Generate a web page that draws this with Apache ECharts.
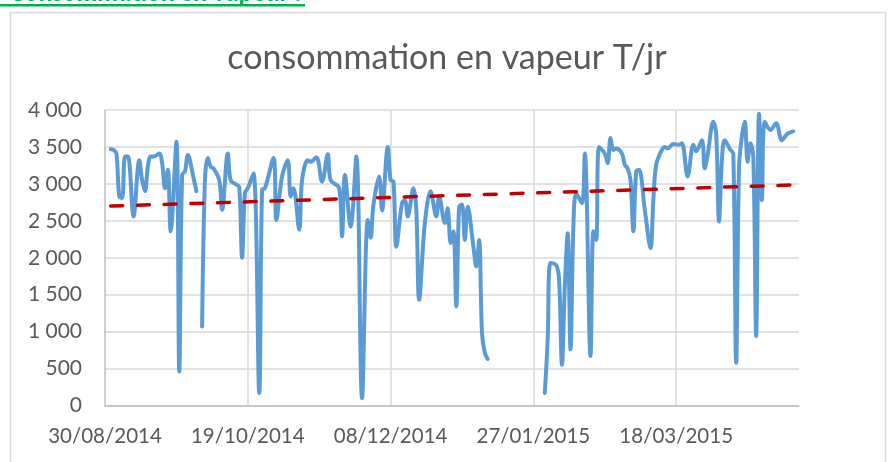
<!DOCTYPE html>
<html>
<head>
<meta charset="utf-8">
<script src="https://cdn.jsdelivr.net/npm/echarts@6/dist/echarts.min.js"></script>
<style>
html,body{margin:0;padding:0;background:#fff;}
#chart{width:889px;height:462px;}
</style>
</head>
<body>
<div id="chart"></div>
<script>
// ---- data ----
const axisStart = '2014-08-30';
const axisEnd = '2015-04-30';
const tickDates = ['30/08/2014', '19/10/2014', '08/12/2014', '27/01/2015', '18/03/2015'];
const yTicks = [0, 500, 1000, 1500, 2000, 2500, 3000, 3500, 4000];

const dates = [
 '2014-09-01','2014-09-02','2014-09-03','2014-09-04','2014-09-05','2014-09-06','2014-09-07','2014-09-09',
 '2014-09-11','2014-09-12','2014-09-13','2014-09-14','2014-09-15','2014-09-16','2014-09-18','2014-09-19',
 '2014-09-20','2014-09-21','2014-09-22','2014-09-24','2014-09-25','2014-09-26','2014-09-27','2014-09-28',
 '2014-09-30','2014-10-01','2014-10-02','2014-10-03','2014-10-04','2014-10-05','2014-10-06','2014-10-07',
 '2014-10-09','2014-10-10','2014-10-12','2014-10-13','2014-10-15','2014-10-16','2014-10-17','2014-10-18',
 '2014-10-19','2014-10-21','2014-10-23','2014-10-24','2014-10-25','2014-10-28','2014-10-29','2014-10-31',
 '2014-11-02','2014-11-03','2014-11-04','2014-11-06','2014-11-07','2014-11-09','2014-11-10','2014-11-12',
 '2014-11-14','2014-11-16','2014-11-17','2014-11-20','2014-11-21','2014-11-22','2014-11-24','2014-11-26',
 '2014-11-28','2014-11-30','2014-12-01','2014-12-02','2014-12-04','2014-12-05','2014-12-07','2014-12-08',
 '2014-12-09','2014-12-10','2014-12-12','2014-12-13','2014-12-14','2014-12-16','2014-12-17','2014-12-18',
 '2014-12-20','2014-12-22','2014-12-24','2014-12-25','2014-12-27','2014-12-28','2014-12-29','2014-12-30',
 '2014-12-31','2015-01-01','2015-01-02','2015-01-03','2015-01-04','2015-01-06','2015-01-07','2015-01-08',
 '2015-01-09','2015-01-10','2015-01-11','2015-01-12',
 '2015-01-31','2015-02-01','2015-02-02','2015-02-04','2015-02-05','2015-02-06','2015-02-07','2015-02-08',
 '2015-02-09','2015-02-10','2015-02-11','2015-02-13','2015-02-14','2015-02-16','2015-02-17','2015-02-18',
 '2015-02-19','2015-02-21','2015-02-22','2015-02-23','2015-02-24','2015-02-25','2015-02-27','2015-02-28',
 '2015-03-01','2015-03-02','2015-03-03','2015-03-04','2015-03-05','2015-03-07','2015-03-09','2015-03-10',
 '2015-03-11','2015-03-13','2015-03-14','2015-03-15','2015-03-17','2015-03-19','2015-03-20','2015-03-22',
 '2015-03-24','2015-03-25','2015-03-27','2015-03-28','2015-03-29','2015-03-31','2015-04-01','2015-04-02',
 '2015-04-03','2015-04-04','2015-04-06','2015-04-07','2015-04-08','2015-04-09','2015-04-10','2015-04-11',
 '2015-04-12','2015-04-13','2015-04-14','2015-04-15','2015-04-16','2015-04-17','2015-04-18','2015-04-20',
 '2015-04-22','2015-04-24','2015-04-26','2015-04-28'
];
const vapeur = [
 3470,3460,3410,2830,2810,3370,3370,2560,
 3320,3050,2900,3230,3370,3370,3410,3280,
 2940,3190,2360,3570,460,3120,3170,3390,
 3080,2900,null,1070,3050,3350,3230,3210,
 3050,2650,3410,3050,2990,2960,2000,2880,
 2940,3140,170,2920,2940,3350,2510,3100,
 3320,2830,2940,2380,3050,3320,3300,3360,
 3030,3400,3050,2940,2290,3120,2420,3370,
 100,2510,2270,2720,3100,2640,3500,3050,
 3030,2150,2740,2780,2560,2940,2650,1430,
 2470,2900,2560,2830,2470,2670,2200,2360,
 1340,2690,2720,2240,2690,2150,1880,2240,
 980,710,630,null,
 170,890,1930,1900,1700,550,1610,2330,
 760,2420,2870,2740,3410,670,2360,2240,
 3500,3410,3280,3620,3460,3480,3410,3260,
 3210,3050,2360,3170,3190,2650,2130,2780,
 3260,3460,3500,3480,3540,3530,3550,3100,
 3530,3440,3590,3210,3390,3840,3680,2490,
 3320,3590,3460,3410,580,3230,3640,3840,
 3300,3550,3370,940,3950,2780,3840,3730,
 3820,3590,3680,3710
];
const trendDates = ['2014-09-01', '2015-04-28'];
const trendValues = [2700, 2985];

// ---- helpers ----
const DAY = 86400000;
function toMs(s){ const p = s.split('-'); return Date.UTC(+p[0], +p[1]-1, +p[2]); }
const t0 = toMs(axisStart);
function dayOf(s){ return Math.round((toMs(s) - t0) / DAY); }
function fmtDay(d){
  const dt = new Date(t0 + d * DAY);
  const dd = String(dt.getUTCDate()).padStart(2,'0');
  const mm = String(dt.getUTCMonth()+1).padStart(2,'0');
  return dd + '/' + mm + '/' + dt.getUTCFullYear();
}
function fmtNum(v){ return String(v).replace(/\B(?=(\d{3})+(?!\d))/g, ' '); }

const lineData = dates.map((d, i) => [dayOf(d), vapeur[i]]);
const trendData = trendDates.map((d, i) => [dayOf(d), trendValues[i]]);
const xMax = dayOf(axisEnd);

const FONT = 'Lato, "Noto Sans", sans-serif';
const chart = echarts.init(document.getElementById('chart'), null, {renderer: 'canvas'});
chart.setOption({
  animation: false,
  backgroundColor: '#ffffff',
  grid: {left: 105, right: 90, top: 110, bottom: 56.5, containLabel: false},
  xAxis: {
    type: 'value', min: 0, max: xMax, interval: 50,
    axisLine: {show: true, onZero: false, lineStyle: {color: '#BFBFBF', width: 1.5}},
    axisTick: {show: false},
    splitLine: {show: true, showMinLine: false, showMaxLine: false, lineStyle: {color: '#D9D9D9', width: 1.5}},
    axisLabel: {
      color: '#595959', fontFamily: FONT, fontSize: 20.5, margin: 20,
      showMaxLabel: false,
      formatter: function(v){ const s = fmtDay(v); return tickDates.indexOf(s) >= 0 ? s : ''; }
    }
  },
  yAxis: {
    type: 'value', min: yTicks[0], max: yTicks[yTicks.length-1], interval: yTicks[1]-yTicks[0],
    axisLine: {show: true, lineStyle: {color: '#BFBFBF', width: 1.5}},
    axisTick: {show: false},
    splitLine: {show: true, lineStyle: {color: '#D9D9D9', width: 1.5}},
    axisLabel: {color: '#595959', fontFamily: FONT, fontSize: 21, margin: 23, formatter: fmtNum}
  },
  series: [
    {
      name: 'consommation', type: 'line', data: lineData, smooth: 0.35,
      connectNulls: false, showSymbol: false, symbol: 'none',
      lineStyle: {color: '#5B9BD5', width: 4, cap: 'round', join: 'round'},
      z: 2
    },
    {
      name: 'tendance', type: 'line', data: trendData, showSymbol: false, symbol: 'none',
      lineStyle: {color: '#C00000', width: 3.5, type: [12, 14.7], cap: 'round'},
      z: 3
    }
  ],
  graphic: [
    {type: 'rect', shape: {x: 10.5, y: 12.5, width: 875, height: 470}, style: {fill: 'none', stroke: '#D9D9D9', lineWidth: 1.5}, silent: true},
    {type: 'text', style: {text: 'consommation en vapeur T/jr', x: 447, y: 58, align: 'center', verticalAlign: 'middle', fill: '#595959', font: '34px ' + FONT}},
    {type: 'text', style: {text: 'Consommation en vapeur :', x: 302, y: -7.5, align: 'right', verticalAlign: 'middle', fill: '#00B050', font: 'italic bold 26px ' + FONT}},
    {type: 'rect', shape: {x: 0, y: 4, width: 305, height: 2.5}, style: {fill: '#00B050'}}
  ]
});
</script>
</body>
</html>
